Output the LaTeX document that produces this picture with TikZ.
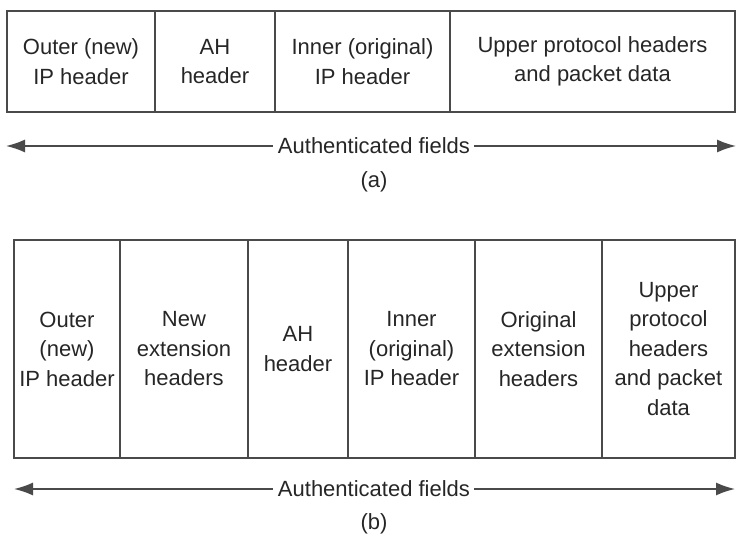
\documentclass[tikz,border=0pt]{standalone}
\usepackage{fontspec}
\setmainfont{Liberation Sans}
\usepackage{tikz}
\usetikzlibrary{arrows.meta}
\definecolor{linegray}{HTML}{4A4A4A}
\definecolor{textgray}{HTML}{262626}
\tikzset{
  field/.style={draw=linegray, line width=2pt, anchor=north west, inner sep=0pt,
    align=center, text=textgray, font=\fontsize{22}{29.5}\selectfont},
  caption/.style={text=textgray, inner sep=0pt, font=\fontsize{22}{29.5}\selectfont},
  span/.style={-{Latex[length=19pt,width=13pt]}, draw=linegray, fill=linegray, line width=1.6pt}
}

\begin{document}
\begin{tikzpicture}[x=1pt,y=-1pt]
    \useasboundingbox (0,0) rectangle (736,534);
    % (a) tunnel mode, IPv4-style layout
    \foreach \x/\w/\name/\txt in {6/148/outerA/{Outer (new)\\IP header},
        154/120/ahA/{AH\\header},
        274/175/innerA/{Inner (original)\\IP header},
        449/285/upperA/{Upper protocol headers\\and packet data}} {
        \node[field, minimum width=\w pt, minimum height=101pt] (\name) at (\x,10) {\txt};
    }
    % Authenticated span (a)
    \node[caption] (authA) at (374,146) {Authenticated fields};
    \coordinate (leftA) at (6,146);
    \coordinate (rightA) at (736,146);
    \draw[span] ([xshift=-5pt]authA.west) -- (leftA);
    \draw[span] ([xshift=4pt]authA.east) -- (rightA);
    \node[caption] (capA) at (374,182) {(a)};
    % (b) tunnel mode with extension headers
    \foreach \x/\w/\name/\txt in {13/106/outerB/{Outer\\(new)\\IP header},
        119/128/newextB/{New\\extension\\headers},
        247/100/ahB/{AH\\header},
        347/127/innerB/{Inner\\(original)\\IP header},
        474/127/origextB/{Original\\extension\\headers},
        601/133/upperB/{Upper\\protocol\\headers\\and packet\\data}} {
        \node[field, minimum width=\w pt, minimum height=218pt] (\name) at (\x,239) {\txt};
    }
    % Authenticated span (b)
    \node[caption] (authB) at (374,489) {Authenticated fields};
    \coordinate (leftB) at (14,489);
    \coordinate (rightB) at (735,489);
    \draw[span] ([xshift=-5pt]authB.west) -- (leftB);
    \draw[span] ([xshift=4pt]authB.east) -- (rightB);
    \node[caption] (capB) at (374,524) {(b)};
\end{tikzpicture}
\end{document}
